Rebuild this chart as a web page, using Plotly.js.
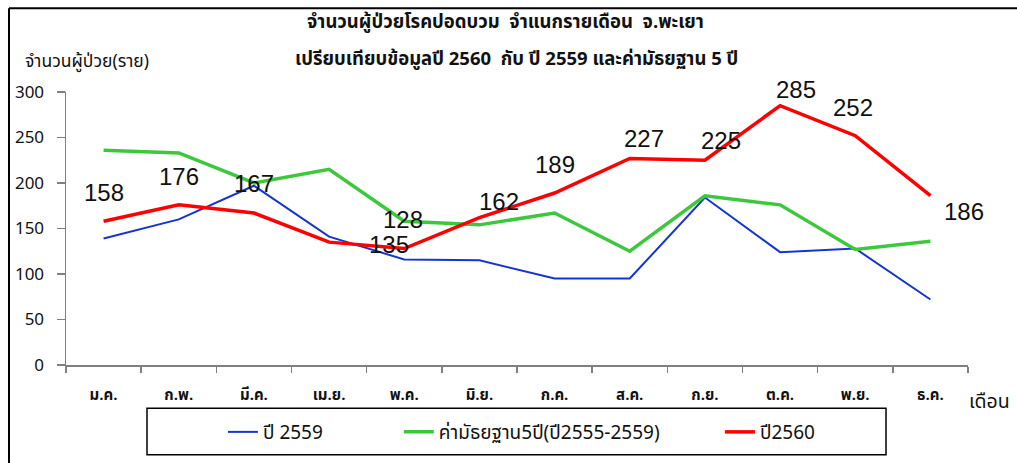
<!DOCTYPE html>
<html>
<head>
<meta charset="utf-8">
<script src="https://cdn.plot.ly/plotly-3.0.1.min.js"></script>
<style>html,body{margin:0;padding:0;background:#fff;}#chart{width:1017px;height:463px;}</style>
</head>
<body>
<div id="chart"></div>
<script>
const months = ['ม.ค.','ก.พ.','มี.ค.','เม.ย.','พ.ค.','มิ.ย.','ก.ค.','ส.ค.','ก.ย.','ต.ค.','พ.ย.','ธ.ค.'];
const y2559 = [139, 160, 197, 141, 116, 115, 95, 95, 184, 124, 128, 72];
const median5 = [236, 233, 200, 215, 158, 154, 167, 125, 186, 176, 127, 136];
const y2560 = [158, 176, 167, 135, 128, 162, 189, 227, 225, 285, 252, 186];
const yTicks = [0, 50, 100, 150, 200, 250, 300];
const seriesNames = ['ปี 2559', 'ค่ามัธยฐาน5ปี(ปี2555-2559)', 'ปี2560'];
const titleLine1 = 'จำนวนผู้ป่วยโรคปอดบวม  จำแนกรายเดือน  จ.พะเยา';
const titleLine2 = 'เปรียบเทียบข้อมูลปี 2560  กับ ปี 2559 และค่ามัธยฐาน 5 ปี';
const yTitle = 'จำนวนผู้ป่วย(ราย)';
const xTitle = 'เดือน';

// label pixel offsets (style only)
const labelDx = [0, 0, 0, 60, -1, 20, 0, 14, 16, 16, -2, 34];
const labelDy = [29, 28, 30, -2, 29, 16, 29, 20, 20, 16, 28, -16];

const FONT = "Tahoma, 'Noto Sans Thai', 'Noto Sans', 'DejaVu Sans', sans-serif";

const traces = [
  {x: months, y: y2559, name: seriesNames[0], type: 'scatter', mode: 'lines',
   line: {color: '#1535D0', width: 2}, legend: 'legend'},
  {x: months, y: median5, name: seriesNames[1], type: 'scatter', mode: 'lines',
   line: {color: '#3CC83C', width: 3.5}, legend: 'legend2'},
  {x: months, y: y2560, name: seriesNames[2], type: 'scatter', mode: 'lines',
   line: {color: '#FF0000', width: 3.5}, legend: 'legend3'}
];

const annotations = y2560.map((v, i) => ({
  x: months[i], y: v, xref: 'x', yref: 'y', text: String(v), showarrow: false,
  xshift: labelDx[i], yshift: labelDy[i],
  font: {family: "'Liberation Sans', Arial, sans-serif", size: 24, color: '#111'}
}));
annotations.push(
  {xref: 'paper', yref: 'paper', x: 0.4867, y: 1.2563, text: titleLine1, showarrow: false,
   xanchor: 'center', yanchor: 'middle', font: {family: FONT, size: 18.5, color: '#111', weight: 'bold'}},
  {xref: 'paper', yref: 'paper', x: 0.4989, y: 1.1227, text: titleLine2, showarrow: false,
   xanchor: 'center', yanchor: 'middle', font: {family: FONT, size: 18.5, color: '#111', weight: 'bold'}},
  {xref: 'paper', yref: 'paper', x: -0.0477, y: 1.112, text: yTitle, showarrow: false,
   xanchor: 'left', yanchor: 'middle', font: {family: FONT, size: 17.5, color: '#111'}},
  {xref: 'paper', yref: 'paper', x: 0.999, y: -0.137, text: xTitle, showarrow: false,
   xanchor: 'left', yanchor: 'middle', font: {family: FONT, size: 19.5, color: '#111'}}
);

const legendCommon = {orientation: 'h', yanchor: 'middle', y: -0.2455, xanchor: 'left',
  bgcolor: 'rgba(0,0,0,0)', borderwidth: 0,
  font: {family: FONT, size: 19, color: '#111'}};

const layout = {
  width: 1017, height: 463,
  margin: {l: 66, r: 49, t: 92, b: 94},
  paper_bgcolor: '#fff', plot_bgcolor: '#fff',
  showlegend: true,
  legend: Object.assign({}, legendCommon, {x: 0.174}),
  legend2: Object.assign({}, legendCommon, {x: 0.369}),
  legend3: Object.assign({}, legendCommon, {x: 0.725}),
  xaxis: {
    type: 'category', range: [-0.5, 11.5], showgrid: false, zeroline: false,
    showline: true, linecolor: '#808080', linewidth: 1.5,
    ticks: 'outside', tickson: 'boundaries', ticklen: 6, tickcolor: '#808080', tickwidth: 1.5,
    ticklabelstandoff: 15,
    tickfont: {family: FONT, size: 15, color: '#111', weight: 'bold'}, fixedrange: true
  },
  yaxis: {
    range: [0, 300], tickvals: yTicks, ticktext: yTicks.map(String),
    showgrid: false, zeroline: false,
    showline: true, linecolor: '#808080', linewidth: 1.5,
    ticks: 'outside', ticklen: 8, tickcolor: '#808080', tickwidth: 1.5,
    ticklabelstandoff: 9,
    tickfont: {family: FONT, size: 17, color: '#111'}, fixedrange: true
  },
  annotations: annotations,
  shapes: [
    // outer frame (left and top edges)
    {type: 'line', xref: 'paper', yref: 'paper', x0: -0.0632, x1: -0.0632, y0: 1.3069, y1: -0.40,
     line: {color: '#000', width: 2}},
    {type: 'line', xref: 'paper', yref: 'paper', x0: -0.0632, x1: 1.07, y0: 1.3069, y1: 1.3069,
     line: {color: '#000', width: 2}},
    // legend box
    {type: 'rect', xref: 'paper', yref: 'paper', x0: 0.0898, x1: 0.9091, y0: -0.3285, y1: -0.1588,
     line: {color: '#000', width: 1.5}, fillcolor: 'rgba(0,0,0,0)'}
  ]
};

Plotly.newPlot('chart', traces, layout, {displayModeBar: false, staticPlot: true});
</script>
</body>
</html>
